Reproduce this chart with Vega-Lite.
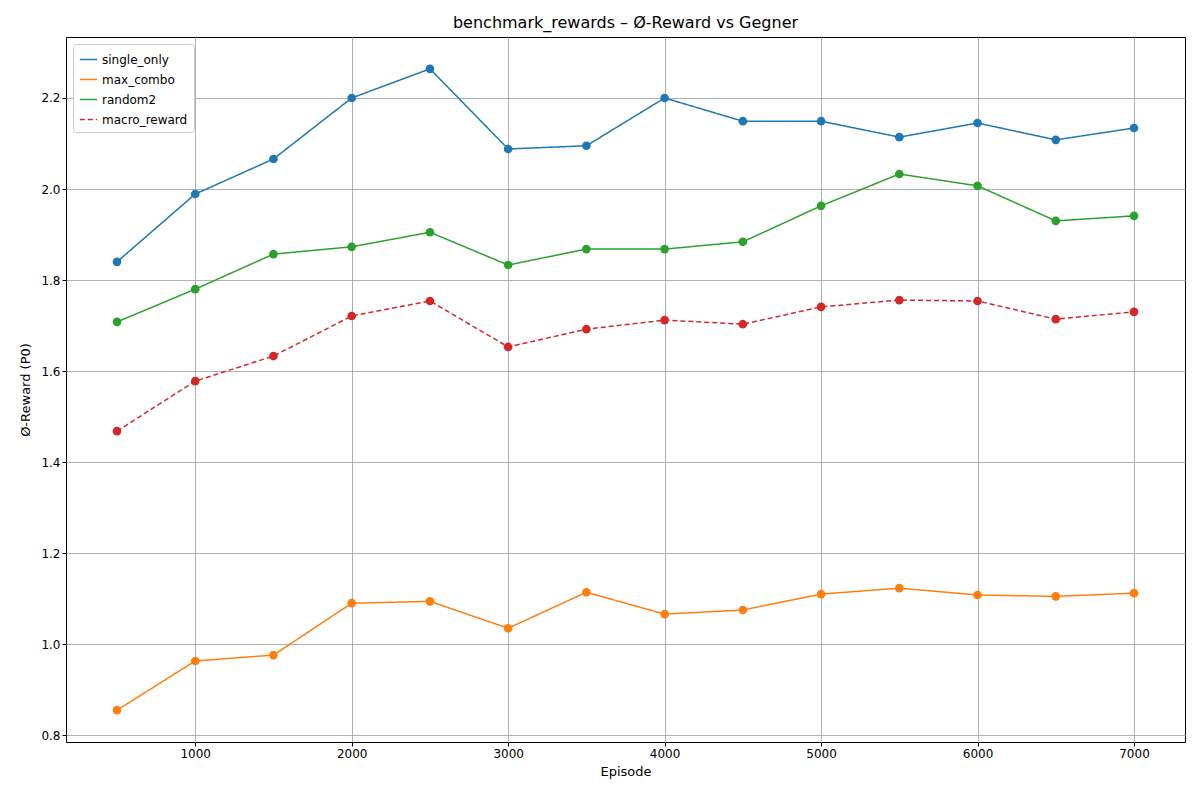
{
  "$schema": "https://vega.github.io/schema/vega-lite/v6.json",
  "autosize": "none",
  "width": 1119,
  "height": 705,
  "padding": {"left": 66, "top": 37, "right": 15, "bottom": 58},
  "background": "#ffffff",
  "title": {"text": "benchmark_rewards – Ø-Reward vs Gegner", "font": "DejaVu Sans", "fontSize": 16, "fontWeight": "normal", "color": "#000000", "offset": 6},
  "config": {
    "font": "DejaVu Sans",
    "view": {"stroke": "#000000", "strokeWidth": 1},
    "axis": {"labelFont": "DejaVu Sans", "labelFontSize": 12, "titleFont": "DejaVu Sans", "titleFontSize": 13, "titleFontWeight": "normal", "labelColor": "#000", "titleColor": "#000", "gridColor": "#b0b0b0", "gridWidth": 1, "tickColor": "#000", "domain": false, "tickSize": 4}
  },
  "data": {
    "values": [
      {"Episode": 500, "s": "single_only", "v": 1.840}, {"Episode": 1000, "s": "single_only", "v": 1.989}, {"Episode": 1500, "s": "single_only", "v": 2.066}, {"Episode": 2000, "s": "single_only", "v": 2.200}, {"Episode": 2500, "s": "single_only", "v": 2.264}, {"Episode": 3000, "s": "single_only", "v": 2.088}, {"Episode": 3500, "s": "single_only", "v": 2.095}, {"Episode": 4000, "s": "single_only", "v": 2.200}, {"Episode": 4500, "s": "single_only", "v": 2.149}, {"Episode": 5000, "s": "single_only", "v": 2.149}, {"Episode": 5500, "s": "single_only", "v": 2.114}, {"Episode": 6000, "s": "single_only", "v": 2.145}, {"Episode": 6500, "s": "single_only", "v": 2.108}, {"Episode": 7000, "s": "single_only", "v": 2.134},
      {"Episode": 500, "s": "max_combo", "v": 0.855}, {"Episode": 1000, "s": "max_combo", "v": 0.963}, {"Episode": 1500, "s": "max_combo", "v": 0.976}, {"Episode": 2000, "s": "max_combo", "v": 1.090}, {"Episode": 2500, "s": "max_combo", "v": 1.094}, {"Episode": 3000, "s": "max_combo", "v": 1.035}, {"Episode": 3500, "s": "max_combo", "v": 1.114}, {"Episode": 4000, "s": "max_combo", "v": 1.066}, {"Episode": 4500, "s": "max_combo", "v": 1.075}, {"Episode": 5000, "s": "max_combo", "v": 1.110}, {"Episode": 5500, "s": "max_combo", "v": 1.123}, {"Episode": 6000, "s": "max_combo", "v": 1.108}, {"Episode": 6500, "s": "max_combo", "v": 1.105}, {"Episode": 7000, "s": "max_combo", "v": 1.112},
      {"Episode": 500, "s": "random2", "v": 1.708}, {"Episode": 1000, "s": "random2", "v": 1.780}, {"Episode": 1500, "s": "random2", "v": 1.857}, {"Episode": 2000, "s": "random2", "v": 1.873}, {"Episode": 2500, "s": "random2", "v": 1.905}, {"Episode": 3000, "s": "random2", "v": 1.833}, {"Episode": 3500, "s": "random2", "v": 1.868}, {"Episode": 4000, "s": "random2", "v": 1.868}, {"Episode": 4500, "s": "random2", "v": 1.884}, {"Episode": 5000, "s": "random2", "v": 1.963}, {"Episode": 5500, "s": "random2", "v": 2.033}, {"Episode": 6000, "s": "random2", "v": 2.007}, {"Episode": 6500, "s": "random2", "v": 1.930}, {"Episode": 7000, "s": "random2", "v": 1.941},
      {"Episode": 500, "s": "macro_reward", "v": 1.468}, {"Episode": 1000, "s": "macro_reward", "v": 1.578}, {"Episode": 1500, "s": "macro_reward", "v": 1.633}, {"Episode": 2000, "s": "macro_reward", "v": 1.721}, {"Episode": 2500, "s": "macro_reward", "v": 1.754}, {"Episode": 3000, "s": "macro_reward", "v": 1.653}, {"Episode": 3500, "s": "macro_reward", "v": 1.692}, {"Episode": 4000, "s": "macro_reward", "v": 1.712}, {"Episode": 4500, "s": "macro_reward", "v": 1.703}, {"Episode": 5000, "s": "macro_reward", "v": 1.741}, {"Episode": 5500, "s": "macro_reward", "v": 1.756}, {"Episode": 6000, "s": "macro_reward", "v": 1.754}, {"Episode": 6500, "s": "macro_reward", "v": 1.714}, {"Episode": 7000, "s": "macro_reward", "v": 1.730}
    ]
  },
  "mark": {"type": "line", "strokeWidth": 1.5, "point": {"size": 75, "filled": true, "opacity": 1}},
  "encoding": {
    "x": {"field": "Episode", "type": "quantitative", "title": "Episode",
      "scale": {"domain": [174, 7326], "nice": false, "zero": false},
      "axis": {"values": [1000, 2000, 3000, 4000, 5000, 6000, 7000], "format": "d", "titlePadding": 6}},
    "y": {"field": "v", "type": "quantitative", "title": "Ø-Reward (P0)",
      "scale": {"domain": [0.785, 2.334], "nice": false, "zero": false},
      "axis": {"values": [0.8, 1.0, 1.2, 1.4, 1.6, 1.8, 2.0, 2.2], "format": ".1f", "titlePadding": 8}},
    "color": {"field": "s", "type": "nominal", "title": null,
      "scale": {"domain": ["single_only", "max_combo", "random2", "macro_reward"], "range": ["#1f77b4", "#ff7f0e", "#2ca02c", "#d62728"]},
      "legend": {"orient": "top-left", "offset": 7, "fillColor": "#ffffff", "strokeColor": "#cccccc", "padding": 6, "cornerRadius": 3, "labelFontSize": 12, "labelFont": "DejaVu Sans", "symbolType": "stroke", "symbolStrokeWidth": 1.5, "symbolSize": 300, "rowPadding": 4}},
    "strokeDash": {"field": "s", "type": "nominal", "title": null,
      "scale": {"domain": ["single_only", "max_combo", "random2", "macro_reward"], "range": [[1, 0], [1, 0], [1, 0], [5, 3]]}}
  }
}
